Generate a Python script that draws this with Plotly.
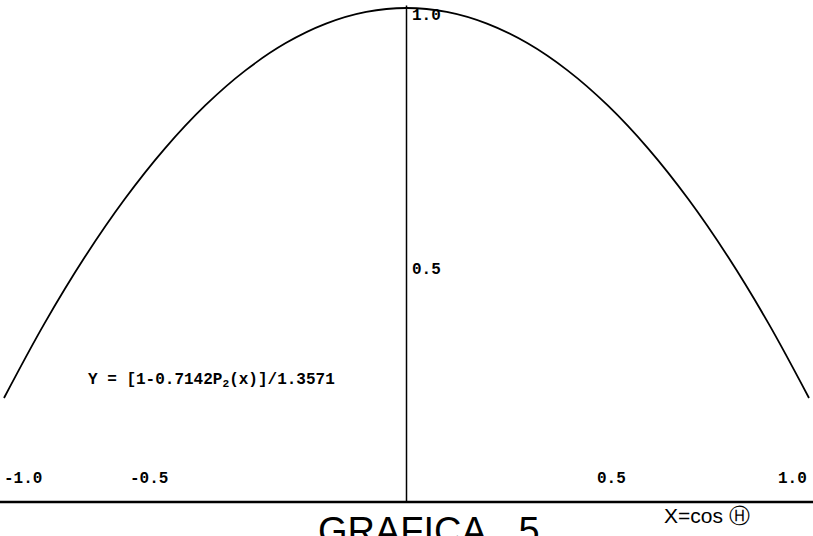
import plotly.graph_objects as go

# Curve samples: X = cos(theta), Y = [1 - 0.7142 P2(x)] / 1.3571
x_vals = [-1.0, -0.9, -0.8, -0.7, -0.6, -0.5, -0.4, -0.3, -0.2, -0.1, 0.0,
          0.1, 0.2, 0.3, 0.4, 0.5, 0.6, 0.7, 0.8, 0.9, 1.0]
y_vals = [0.2106, 0.3606, 0.4948, 0.6132, 0.7158, 0.8027, 0.8737, 0.9290, 0.9684, 0.9921, 1.0,
          0.9921, 0.9684, 0.9290, 0.8737, 0.8027, 0.7158, 0.6132, 0.4948, 0.3606, 0.2106]

x_tick_vals = [-1.0, -0.5, 0.5, 1.0]
x_tick_text = ["-1.0", "-0.5", "0.5", "1.0"]
x_tick_shift = [-2, -77, -13, -33]
y_tick_vals = [1.0, 0.5]
y_tick_text = ["1.0", "0.5"]
y_tick_shift = [3, -4]

formula = "Y = [1-0.7142P<sub>2</sub>(x)]/1.3571"
x_title = "X=cos Ⓗ"
chart_title = "GRAFICA\u00a0\u00a0\u00a05"

W, H = 813, 536
px_per_x = 402.5
x_left = -1 - 4 / px_per_x
x_right = x_left + W / px_per_x
px_per_y = 494.0
y_top = 502 / px_per_y
y_bottom = y_top - H / px_per_y

MONO = "Liberation Mono, DejaVu Sans Mono, monospace"
SANS = "Liberation Sans, Arial, sans-serif"

fig = go.Figure()
fig.add_trace(go.Scatter(
    x=x_vals, y=y_vals, mode="lines",
    line=dict(color="black", width=1.8, shape="spline"),
    hoverinfo="skip", showlegend=False,
))

# axes drawn as lines: horizontal baseline and vertical axis at x = 0
fig.add_shape(type="line", xref="paper", yref="y", x0=0, x1=1, y0=0, y1=0,
              line=dict(color="black", width=2.5))
fig.add_shape(type="line", xref="x", yref="y", x0=0, x1=0, y0=0, y1=1.005,
              line=dict(color="black", width=1.5))

annotations = []
for v, t, s in zip(x_tick_vals, x_tick_text, x_tick_shift):
    annotations.append(dict(x=v, y=0, xref="x", yref="y", text="<b>" + t + "</b>",
                            showarrow=False, xanchor="left", yanchor="bottom",
                            xshift=s, yshift=12, font=dict(family=MONO, size=16, color="black")))
for v, t, s in zip(y_tick_vals, y_tick_text, y_tick_shift):
    annotations.append(dict(x=0, y=v, xref="x", yref="y", text="<b>" + t + "</b>",
                            showarrow=False, xanchor="left", yanchor="top",
                            xshift=3, yshift=s,
                            font=dict(family=MONO, size=16, color="black")))

annotations.append(dict(x=86 / W, y=1 - 380 / H, xref="paper", yref="paper",
                        text="<b>" + formula + "</b>", showarrow=False,
                        xanchor="left", yanchor="middle",
                        font=dict(family=MONO, size=16, color="black")))
annotations.append(dict(x=662 / W, y=1 - 502 / H, xref="paper", yref="paper",
                        text=x_title, showarrow=False, xanchor="left", yanchor="top",
                        font=dict(family=SANS, size=21, color="black")))
annotations.append(dict(x=316 / W, y=1 - 508 / H, xref="paper", yref="paper",
                        text=chart_title, showarrow=False, xanchor="left", yanchor="top",
                        font=dict(family=SANS, size=38, color="black")))

fig.update_layout(
    width=W, height=H,
    margin=dict(l=0, r=0, t=0, b=0),
    paper_bgcolor="white", plot_bgcolor="white",
    xaxis=dict(range=[x_left, x_right], visible=False, fixedrange=True),
    yaxis=dict(range=[y_bottom, y_top], visible=False, fixedrange=True),
    annotations=annotations,
    showlegend=False,
)

fig.write_html("out.html")
